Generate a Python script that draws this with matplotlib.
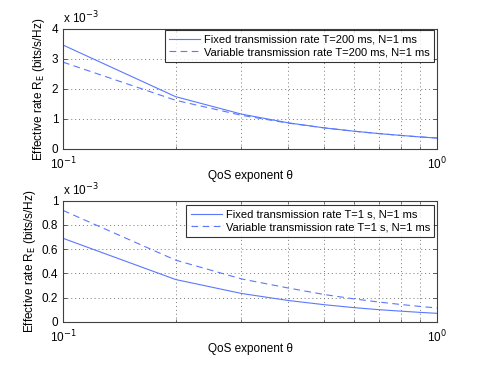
import numpy as np
import matplotlib
matplotlib.use('Agg')
import matplotlib.pyplot as plt
from matplotlib.ticker import FixedLocator, NullFormatter

plt.rcParams['font.family'] = ['Liberation Sans', 'DejaVu Sans']
plt.rcParams['font.size'] = 8

# QoS exponent theta
theta = [0.1, 0.2, 0.3, 0.4, 0.5, 0.6, 0.7, 0.8, 0.9, 1.0]

# effective rate, in units of 1e-3 bits/s/Hz
fixed_200ms = [3.46, 1.74, 1.16, 0.87, 0.70, 0.59, 0.51, 0.45, 0.40, 0.36]
var_200ms = [2.89, 1.62, 1.12, 0.86, 0.70, 0.59, 0.51, 0.45, 0.40, 0.365]
fixed_1s = [0.69, 0.35, 0.235, 0.177, 0.142, 0.118, 0.101, 0.089, 0.079, 0.071]
var_1s = [0.92, 0.51, 0.355, 0.28, 0.226, 0.19, 0.164, 0.144, 0.128, 0.115]

labels_top = ['Fixed transmission rate T=200 ms, N=1 ms',
              'Variable transmission rate T=200 ms, N=1 ms']
labels_bot = ['Fixed transmission rate T=1 s, N=1 ms',
              'Variable transmission rate T=1 s, N=1 ms']

line_col = '#5a78ff'
frame_col = '#404040'

fig = plt.figure(figsize=(4.85, 3.65), dpi=100)
ax1 = fig.add_axes([0.130, 0.592, 0.771, 0.329])
ax2 = fig.add_axes([0.130, 0.118, 0.771, 0.332])


def style_axes(ax, ylim, yticks, yticklabels):
    ax.set_xscale('log')
    ax.set_xlim(0.1, 1.0)
    ax.set_ylim(*ylim)
    ax.set_yticks(yticks)
    ax.set_yticklabels(yticklabels)
    ax.set_xticks([0.1, 1.0])
    ax.set_xticklabels(['10$^{-1}$', '10$^{0}$'])
    ax.xaxis.set_minor_locator(FixedLocator([0.2, 0.3, 0.4, 0.5, 0.6, 0.7, 0.8, 0.9]))
    ax.xaxis.set_minor_formatter(NullFormatter())
    ax.tick_params(which='both', direction='in', colors=frame_col,
                   labelcolor='black', top=True, right=True, labelsize=8.5)
    ax.tick_params(axis='x', which='major', pad=5)
    ax.tick_params(which='major', length=3, width=0.6)
    ax.tick_params(which='minor', length=2, width=0.5)
    ax.grid(True, which='both', linestyle=(0, (1, 3)), color='#777777', linewidth=0.7)
    for s in ax.spines.values():
        s.set_color(frame_col)
        s.set_linewidth(0.8)
    ax.set_xlabel('QoS exponent θ', fontsize=8.5, labelpad=-2)
    ax.set_ylabel('Effective rate R$_\\mathrm{E}$ (bits/s/Hz)', fontsize=8.5, labelpad=3)
    ax.text(0.0, 1.02, 'x 10$^{-3}$', transform=ax.transAxes, fontsize=8.5,
            ha='left', va='bottom')


leg_kw = dict(fontsize=8, frameon=True, fancybox=False, edgecolor='black',
              borderpad=0.4, handlelength=2.8, handletextpad=0.35,
              labelspacing=0.25)

ax1.plot(theta, fixed_200ms, '-', color=line_col, lw=0.8, label=labels_top[0])
ax1.plot(theta, var_200ms, '--', color=line_col, lw=0.8, dashes=(6, 4), label=labels_top[1])
style_axes(ax1, (0, 4), [0, 1, 2, 3, 4], ['0', '1', '2', '3', '4'])
leg1 = ax1.legend(loc='upper right', bbox_to_anchor=(0.993, 0.99), borderaxespad=0, **leg_kw)
leg1.get_frame().set_linewidth(0.8)

ax2.plot(theta, fixed_1s, '-', color=line_col, lw=0.8, label=labels_bot[0])
ax2.plot(theta, var_1s, '--', color=line_col, lw=0.8, dashes=(6, 4), label=labels_bot[1])
style_axes(ax2, (0, 1), [0, 0.2, 0.4, 0.6, 0.8, 1.0],
           ['0', '0.2', '0.4', '0.6', '0.8', '1'])
leg2 = ax2.legend(loc='upper right', bbox_to_anchor=(0.993, 0.965), borderaxespad=0, **leg_kw)
leg2.get_frame().set_linewidth(0.8)

fig.savefig('out.png', dpi=100)
